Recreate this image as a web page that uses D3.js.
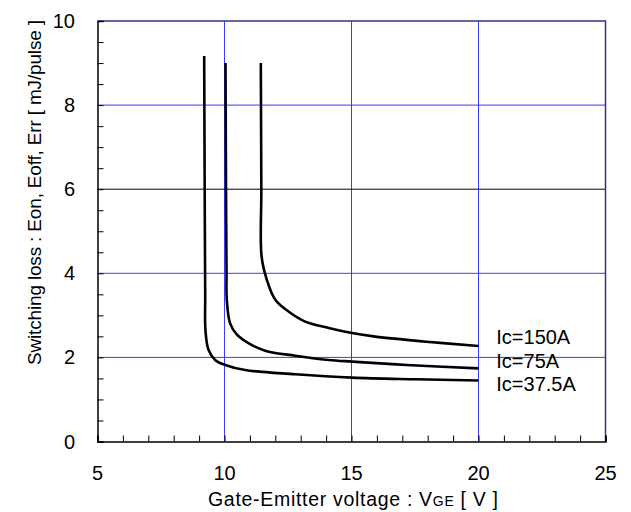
<!DOCTYPE html>
<html>
<head>
<meta charset="utf-8">
<script src="https://cdn.jsdelivr.net/npm/d3@7"></script>
<style>
  body { margin: 0; background: #fff; }
  svg { display: block; font-family: "Liberation Sans", Arial, sans-serif; }
</style>
</head>
<body>
<svg id="chart" width="631" height="512"></svg>
<script>
(function () {
    'use strict';

    // values
    const xTicks = [5, 10, 15, 20, 25];
    const yTicks = [0, 2, 4, 6, 8, 10];
    const seriesNames = ["Ic=150A", "Ic=75A", "Ic=37.5A"];

    const vge150 = [11.43, 11.45, 11.46, 11.67, 12.0, 12.52, 13.18, 14.1, 15.02, 15.87, 17.83, 20];
    const e150 = [9.0, 6.0, 4.4, 3.84, 3.37, 3.09, 2.85, 2.70, 2.58, 2.50, 2.38, 2.27];

    const vge75 = [10.04, 10.06, 10.08, 10.09, 10.22, 10.49, 10.94, 11.6, 12.78, 14.1, 15.02, 17.18, 20];
    const e75 = [9.0, 6.0, 4.0, 3.37, 2.81, 2.54, 2.34, 2.16, 2.04, 1.94, 1.90, 1.82, 1.74];

    const vge37 = [9.20, 9.22, 9.24, 9.25, 9.37, 9.63, 10.03, 10.81, 12.78, 15.02, 17.5, 20];
    const e37 = [9.17, 6.0, 3.5, 2.65, 2.18, 1.94, 1.82, 1.70, 1.60, 1.52, 1.48, 1.45];

    // label anchors (annotation, data units)
    const labelX = [20.7, 20.7, 20.7];
    const labelY = [2.33, 1.74, 1.19];

    const blueGridX = [10, 15, 20];
    const blueGridY = [2, 4, 8];
    const blackGridY = [6];

    const left = 97.5, right = 605.5, top = 21, bottom = 441.5;

    const svg = d3.select("#chart");

    var x = d3.scaleLinear().domain([5, 25]).range([left, right]);
    var y = d3.scaleLinear().domain([0, 10]).range([bottom, top]);

    // grid
    svg.append("g").selectAll("line").data(blueGridX).join("line")
        .attr("x1", d => x(d)).attr("x2", d => x(d))
        .attr("y1", top).attr("y2", bottom)
        .attr("stroke", "#3b3bff").attr("stroke-width", 1);
    svg.append("g").selectAll("line").data(blueGridY).join("line")
        .attr("x1", left).attr("x2", right)
        .attr("y1", d => y(d)).attr("y2", d => y(d))
        .attr("stroke", "#3b3bff").attr("stroke-width", 1);
    svg.append("g").selectAll("line").data(blackGridY).join("line")
        .attr("x1", left).attr("x2", right)
        .attr("y1", d => y(d)).attr("y2", d => y(d))
        .attr("stroke", "#000").attr("stroke-width", 1);

    // top / right frame
    svg.append("path")
        .attr("d", `M${left},${top}H${right}V${bottom}`)
        .attr("fill", "none").attr("stroke", "#34347e").attr("stroke-width", 1.5);

    // axes with inward minor ticks
    var xAxis = d3.axisBottom(x).tickValues(d3.range(5, 25.01, 1))
        .tickSize(-6).tickFormat("");
    svg.append("g").attr("transform", `translate(0,${bottom})`).call(xAxis)
        .call(g => g.select(".domain").attr("stroke-width", 1.5));
    var yAxis = d3.axisLeft(y).tickValues(d3.range(0, 10.01, 0.5))
        .tickSize(-6).tickFormat("");
    svg.append("g").attr("transform", `translate(${left},0)`).call(yAxis)
        .call(g => g.select(".domain").attr("stroke-width", 1.5));

    // tick labels
    svg.append("g").selectAll("text").data(xTicks).join("text")
        .attr("x", d => x(d)).attr("y", 480)
        .attr("text-anchor", "middle").attr("font-size", 20)
        .text(d => d);
    svg.append("g").selectAll("text").data(yTicks).join("text")
        .attr("x", 75).attr("y", d => y(d) + 7)
        .attr("text-anchor", "end").attr("font-size", 20)
        .text(d => d);

    // axis titles
    var xt = svg.append("text")
        .attr("x", 208).attr("y", 506)
        .attr("font-size", 19.5)
        .attr("textLength", 290).attr("lengthAdjust", "spacing");
    xt.append("tspan").text("Gate-Emitter voltage : V");
    xt.append("tspan").attr("font-size", 14).text("GE");
    xt.append("tspan").text(" [ V ]");

    svg.append("text")
        .attr("transform", "translate(41,365) rotate(-90)")
        .attr("font-size", 19)
        .attr("textLength", 345).attr("lengthAdjust", "spacing")
        .text("Switching loss : Eon, Eoff, Err [ mJ/pulse ]");

    // curves
    var series = [
        d3.zip(vge150, e150),
        d3.zip(vge75, e75),
        d3.zip(vge37, e37)
    ];
    var line = d3.line()
        .x(d => x(d[0])).y(d => y(d[1]))
        .curve(d3.curveCatmullRom.alpha(0.5));
    svg.append("g").selectAll("path").data(series).join("path")
        .attr("d", line)
        .attr("fill", "none").attr("stroke", "#000")
        .attr("stroke-width", 2.6).attr("stroke-linejoin", "round");

    svg.append("g").selectAll("text").data(seriesNames).join("text")
        .attr("x", (d, i) => x(labelX[i])).attr("y", (d, i) => y(labelY[i]))
        .attr("font-size", 20)
        .text(d => d);
})();
</script>
</body>
</html>
